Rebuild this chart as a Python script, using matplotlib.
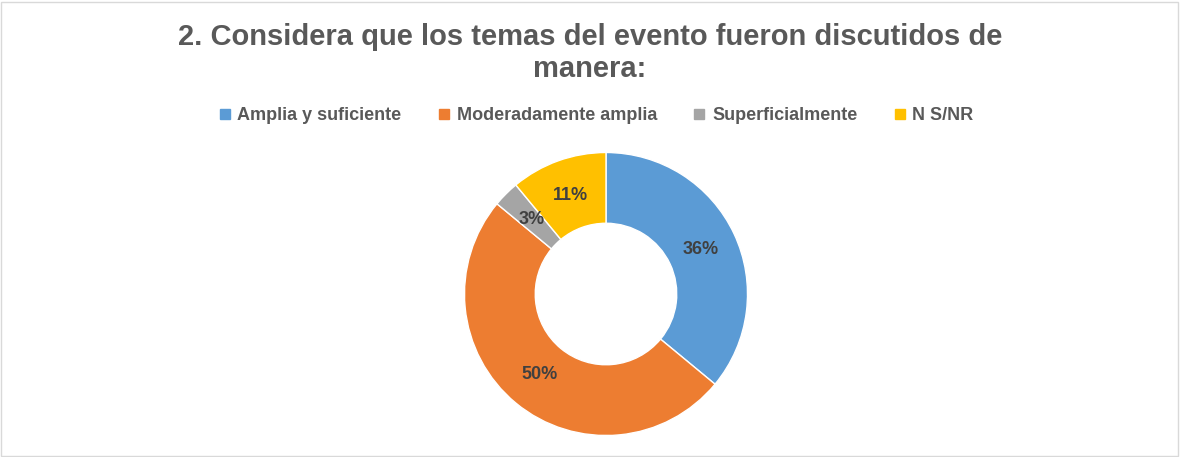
import matplotlib
matplotlib.use("Agg")
import matplotlib.pyplot as plt
from matplotlib.patches import Rectangle
from matplotlib.lines import Line2D

#-----DATA-----
categories = ["Amplia y suficiente", "Moderadamente amplia", "Superficialmente", "N S/NR"]
values = [36, 50, 3, 11]
colors = ["#5B9BD5", "#ED7D31", "#A5A5A5", "#FFC000"]
title = "2. Considera que los temas del evento fueron discutidos de\nmanera:"
#--------------

W, H = 1180, 457
fonts = ["Liberation Sans", "DejaVu Sans"]
text_col = "#595959"

fig = plt.figure(figsize=(W / 100, H / 100), dpi=100)
fig.patch.set_facecolor("white")

# chart border
fig.add_artist(Rectangle((1 / W, 1 / H), 1 - 3 / W, 1 - 3 / H, transform=fig.transFigure,
                         fill=False, edgecolor="#d9d9d9", linewidth=1))

# donut axes: center ~ (606, 294) px, radius ~141 px
cx, cy, r = 606, 294, 141.5
ax = fig.add_axes([(cx - r) / W, (H - cy - r) / H, 2 * r / W, 2 * r / H])
wedges, texts, autotexts = ax.pie(
    values, colors=colors, startangle=90, counterclock=False,
    autopct=lambda p: f"{p:.0f}%", pctdistance=0.74,
    wedgeprops=dict(width=0.5, edgecolor="white", linewidth=1),
    textprops=dict(color="#404040", fontsize=13, fontweight="bold", family=fonts),
)
ax.set_xlim(-1, 1)
ax.set_ylim(-1, 1)
ax.set_aspect("equal")
ax.axis("off")

fig.text(590 / W, 1 - 53 / H, title, ha="center", va="center", fontsize=21,
         fontweight="bold", color=text_col, family=fonts, linespacing=1.15)

handles = [Line2D([], [], marker="s", linestyle="none", markersize=7,
                  markerfacecolor=c, markeredgecolor=c) for c in colors]
fig.legend(handles, categories, loc="center", bbox_to_anchor=(596 / W, 1 - 116 / H),
           ncol=4, frameon=False, handlelength=0.7, handletextpad=0.35, columnspacing=2.0,
           prop=dict(family=fonts, size=13, weight="bold"), labelcolor=text_col)

fig.savefig("out.png", dpi=100)
